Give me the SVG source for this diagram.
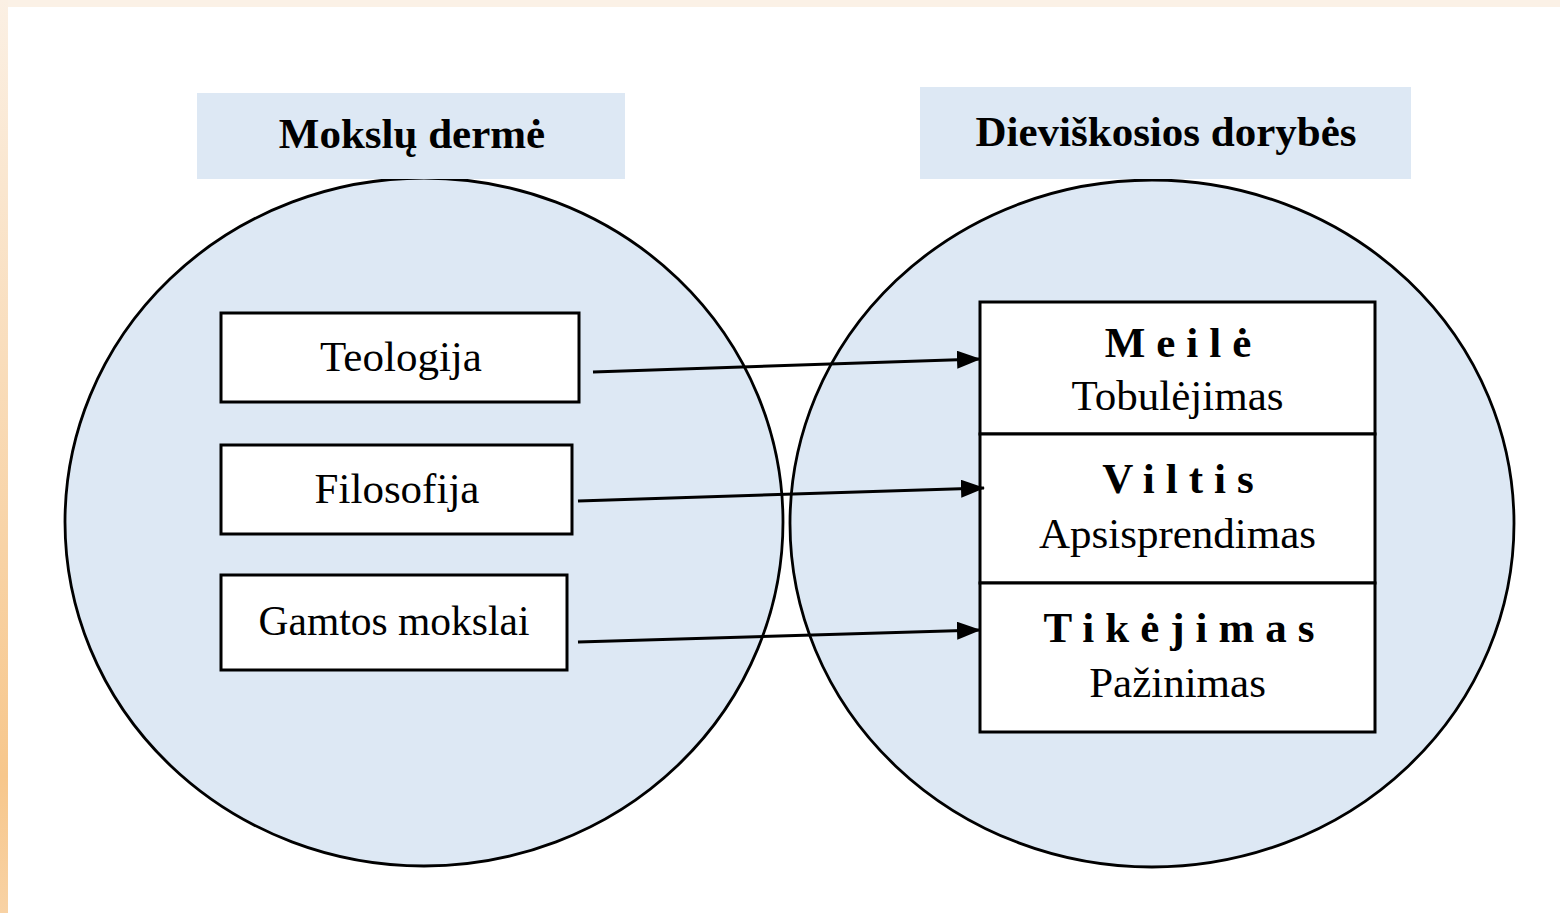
<svg xmlns="http://www.w3.org/2000/svg" width="1560" height="913" viewBox="0 0 1560 913">
<defs>
<linearGradient id="lg" x1="0" y1="0" x2="0" y2="1">
<stop offset="0" stop-color="#fbf0e4"/>
<stop offset="0.6" stop-color="#f8d3a6"/>
<stop offset="0.85" stop-color="#f7c78c"/>
<stop offset="1" stop-color="#f8d2a4"/>
</linearGradient>
<marker id="ah" markerWidth="24" markerHeight="18" refX="23" refY="9" orient="auto" markerUnits="userSpaceOnUse">
<path d="M0,0 L24,9 L0,18 Z" fill="#000"/>
</marker>
<style>
.circ{fill:#dde8f4;stroke:#000;stroke-width:2.8}
.hdr{fill:#dde8f4}
.box{fill:#fff;stroke:#000;stroke-width:3}
.t{font-family:"Liberation Serif","Times New Roman",serif;font-size:43px;fill:#000;text-anchor:middle}
.b{font-weight:bold}
.sp{letter-spacing:11px}
.conn{stroke:#000;stroke-width:3;fill:none;marker-end:url(#ah)}
</style>
</defs>
<rect x="0" y="0" width="1560" height="913" fill="#fff"/>
<rect x="0" y="0" width="1560" height="7" fill="#fbf1e6"/>
<rect x="0" y="0" width="8" height="913" fill="url(#lg)"/>

<g id="left-circle">
<ellipse class="circ" cx="424" cy="522" rx="359" ry="344"/>
</g>
<g id="right-circle">
<ellipse class="circ" cx="1152" cy="523.5" rx="362" ry="343.5"/>
</g>

<g id="header-left">
<rect class="hdr" x="197" y="93" width="428" height="86"/>
<text class="t b" x="412" y="148">Mokslų dermė</text>
</g>
<g id="header-right">
<rect class="hdr" x="920" y="87" width="491" height="92"/>
<text class="t b" x="1166" y="146">Dieviškosios dorybės</text>
</g>

<g id="teologija">
<rect class="box" x="221" y="313" width="358" height="89"/>
<text class="t" x="401" y="371">Teologija</text>
</g>
<g id="filosofija">
<rect class="box" x="221" y="445" width="351" height="89"/>
<text class="t" x="397" y="503">Filosofija</text>
</g>
<g id="gamtos">
<rect class="box" x="221" y="575" width="346" height="95"/>
<text class="t" x="394" y="635" style="font-size:41.5px">Gamtos mokslai</text>
</g>

<g id="meile">
<rect class="box" x="980" y="302" width="395" height="132"/>
<text class="t b sp" x="1183.5" y="357">Meilė</text>
<text class="t" x="1177.5" y="410">Tobulėjimas</text>
</g>
<g id="viltis">
<rect class="box" x="980" y="434" width="395" height="149"/>
<text class="t b sp" x="1183.5" y="493">Viltis</text>
<text class="t" x="1177.5" y="548">Apsisprendimas</text>
</g>
<g id="tikejimas">
<rect class="box" x="980" y="583" width="395" height="149"/>
<text class="t b sp" x="1184.5" y="642">Tikėjimas</text>
<text class="t" x="1177.5" y="697">Pažinimas</text>
</g>

<g id="connectors">
<line class="conn" x1="593" y1="372" x2="980" y2="359"/>
<line class="conn" x1="578" y1="501" x2="984" y2="488"/>
<line class="conn" x1="578" y1="642" x2="980" y2="630"/>
</g>
</svg>
